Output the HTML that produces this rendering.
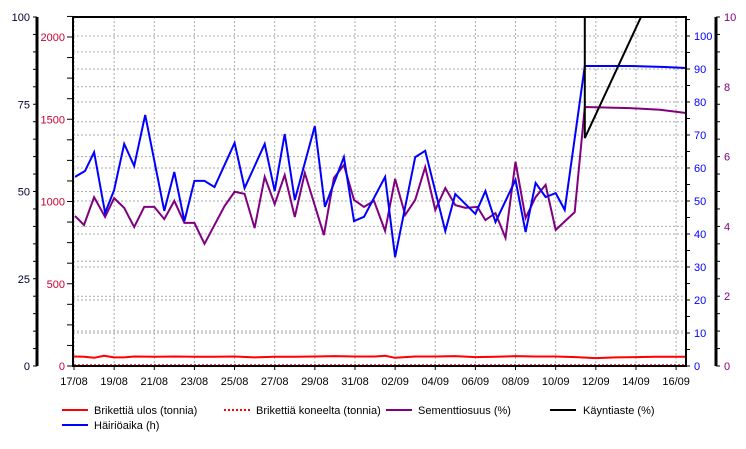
<!DOCTYPE html>
<html><head><meta charset="utf-8"><style>
body{margin:0;background:#fff;}
svg{display:block;font-family:"Liberation Sans",sans-serif;}
</style></head><body>
<svg id="chart" width="746" height="449" viewBox="0 0 746 449" xmlns="http://www.w3.org/2000/svg">
<defs><clipPath id="plotclip"><rect x="73" y="17" width="613" height="349"/></clipPath></defs>
<g id="grid"></g>
<g id="series" clip-path="url(#plotclip)"></g>
<g id="axes"></g>
<g id="legend" font-size="11">
 <line x1="62" y1="410" x2="88" y2="410" stroke="#ff0000" stroke-width="2"/>
 <text x="94" y="414">Brikettiä ulos (tonnia)</text>
 <line x1="224" y1="410" x2="250" y2="410" stroke="#ff0000" stroke-width="2" stroke-dasharray="2,2"/>
 <text x="256" y="414">Brikettiä koneelta (tonnia)</text>
 <line x1="386" y1="410" x2="412" y2="410" stroke="#800080" stroke-width="2"/>
 <text x="418" y="414">Sementtiosuus (%)</text>
 <line x1="550" y1="410" x2="576" y2="410" stroke="#000" stroke-width="2"/>
 <text x="583" y="414">Käyntiaste (%)</text>
 <line x1="62" y1="425" x2="88" y2="425" stroke="#0000ff" stroke-width="2"/>
 <text x="94" y="429">Häiriöaika (h)</text>
</g>
</svg>
<script>
const dateLabels=["17/08","19/08","21/08","23/08","25/08","27/08","29/08","31/08","02/09","04/09","06/09","08/09","10/09","12/09","14/09","16/09"];
const blueDays=[0.05,0.55,1.0,1.55,2.0,2.5,3.0,3.55,4.5,5.0,5.5,6.0,6.5,7.0,8.0,8.5,9.5,10.0,10.5,11.0,12.0,12.5,13.45,13.95,14.45,15.5,16.0,17.0,17.5,18.5,19.0,20.0,20.5,21.0,22.0,22.5,23.0,23.5,24.0,24.45,25.45,27.7,29.45,30.5];
const blueVals=[57.3,59.1,64.8,46.4,53.3,67.3,60.6,76.1,47.0,58.8,43.9,56.1,56.1,54.2,67.6,53.9,67.3,53.0,70.3,50.3,72.7,48.2,63.3,43.9,45.2,57.3,33.0,63.3,65.2,40.9,52.1,46.1,53.0,43.6,56.4,40.6,55.5,51.2,52.4,47.3,90.9,90.9,90.6,90.3];
const purpleDays=[0.05,0.5,1.0,1.55,2.0,2.5,3.0,3.5,4.0,4.5,5.0,5.5,6.0,6.5,7.5,8.0,8.5,9.0,9.5,10.0,10.5,11.0,11.5,12.45,12.95,13.45,13.95,14.45,14.95,15.5,16.0,16.5,17.0,17.5,18.0,18.5,19.0,19.5,20.1,20.5,21.0,21.5,22.0,22.5,23.0,23.5,24.0,24.95,25.45,27.7,29.2,30.5];
const purpleVals=[4.30,4.04,4.84,4.27,4.81,4.53,3.98,4.56,4.56,4.21,4.73,4.10,4.10,3.50,4.58,4.99,4.93,3.95,5.42,4.64,5.47,4.27,5.53,3.75,5.39,5.76,4.76,4.56,4.73,3.87,5.36,4.33,4.76,5.70,4.47,5.10,4.61,4.53,4.56,4.18,4.38,3.67,5.85,4.24,4.84,5.19,3.90,4.41,7.42,7.39,7.34,7.25];
const redDays=[0,0.5,1,1.5,2,2.5,3,4,5,6,7,8,9,10,11,12,13,14,15,15.5,16,17,18,19,20,21,22,23,24,25,26,27,28,29,30,30.5];
const redVals=[58,56,50,62,52,52,58,56,58,56,56,58,52,56,56,58,60,58,58,62,50,58,58,60,54,56,60,58,58,54,48,52,54,56,56,56];
const koneDays=[0,30.5];
const koneVals=[4,4];
const blackDays=[25.45,25.45,28.25,30.5];
const blackVals=[110,65.3,100,130];

const NS="http://www.w3.org/2000/svg";
const X0=74,DX=20.07,YB=366,YT=17;
const xs=d=>X0+d*DX;
const yBlue=v=>YB-v*3.3;
const yPurple=v=>YB-v*(YB-YT)/10;
const yRed=v=>YB-v*0.1645;
const yBlack=v=>YB-v*(YB-YT)/100;
function mk(tag,attrs,parent){const e=document.createElementNS(NS,tag);for(const k in attrs)e.setAttribute(k,attrs[k]);parent.appendChild(e);return e;}
const grid=document.getElementById('grid'),series=document.getElementById('series'),axes=document.getElementById('axes');
// grid
for(let k=1;k<=10;k++){const y=yBlue(k*10);if(y<YT)continue;const l=mk('line',{x1:73,x2:686,y1:y,y2:y,stroke:'#aaa','stroke-dasharray':'2,2'},grid);}
for(let k=1;k<10;k++){const y=yPurple(k);const l=mk('line',{x1:73,x2:686,y1:y,y2:y,stroke:'#aaa','stroke-dasharray':'2,2'},grid);}
dateLabels.forEach((t,i)=>{const x=xs(i*2);
 const l=mk('line',{x1:x,x2:x,y1:YT,y2:YB,stroke:'#aaa','stroke-dasharray':'2,2'},grid);
 const tk=mk('line',{x1:x,x2:x,y1:YB,y2:YB+4,stroke:'#000'},axes);
 const tx=mk('text',{x:x,y:385,'font-size':11,'text-anchor':'middle'},axes);tx.textContent=t;});
// series
function line(days,vals,yf,color,name,dash){const pts=days.map((d,i)=>xs(d).toFixed(1)+','+yf(vals[i]).toFixed(1)).join(' ');
 const p=mk('polyline',{points:pts,fill:'none',stroke:color,'stroke-width':2},series);if(dash)p.setAttribute('stroke-dasharray',dash);
 }
line(koneDays,koneVals,yRed,'#ff0000','series-brikettia-koneelta','2,2');
line(redDays,redVals,yRed,'#ff0000','series-brikettia-ulos');
line(purpleDays,purpleVals,yPurple,'#800080','series-sementtiosuus');
line(blueDays,blueVals,yBlue,'#0000ff','series-hairioaika');
line(blackDays,blackVals,yBlack,'#000000','series-kayntiaste');
// frame
const fr=mk('rect',{x:73,y:17,width:613,height:349,fill:'none',stroke:'#000','stroke-width':2},axes);
// left outer axis 0-100
const la=mk('line',{x1:37,x2:37,y1:17,y2:366,stroke:'#000','stroke-width':3},axes);
for(let v=0;v<=100;v+=5){const y=yBlack(v);mk('line',{x1:33,x2:37,y1:y,y2:y,stroke:'#000'},axes);
 if(v%25==0){const t=mk('text',{x:30,y:y+4,'font-size':11,'text-anchor':'end',fill:'#000033'},axes);t.textContent=v;}}
// left inner axis 0-2000
for(let v=0;v<=2125;v+=125){const y=yRed(v);mk('line',{x1:67,x2:73,y1:y,y2:y,stroke:'#000'},axes);
 if(v%500==0){const t=mk('text',{x:65,y:y+4,'font-size':11,'text-anchor':'end',fill:'#cc0033'},axes);t.textContent=v;}}
// right blue axis 0-100
for(let v=0;v<=105;v+=5){const y=yBlue(v);if(y<YT)continue;mk('line',{x1:686,x2:690,y1:y,y2:y,stroke:'#000'},axes);
 if(v%10==0){const t=mk('text',{x:694,y:y+4,'font-size':11,fill:'#0000ff'},axes);t.textContent=v;}}
// far right purple axis 0-10
const ra=mk('line',{x1:716,x2:716,y1:17,y2:366,stroke:'#000','stroke-width':3},axes);
for(let v=0;v<=10;v+=0.5){const y=yPurple(v);mk('line',{x1:716,x2:720,y1:y,y2:y,stroke:'#000'},axes);
 if(v%2==0){const t=mk('text',{x:724,y:y+4,'font-size':11,fill:'#800080'},axes);t.textContent=v;}}
</script>
</body></html>
